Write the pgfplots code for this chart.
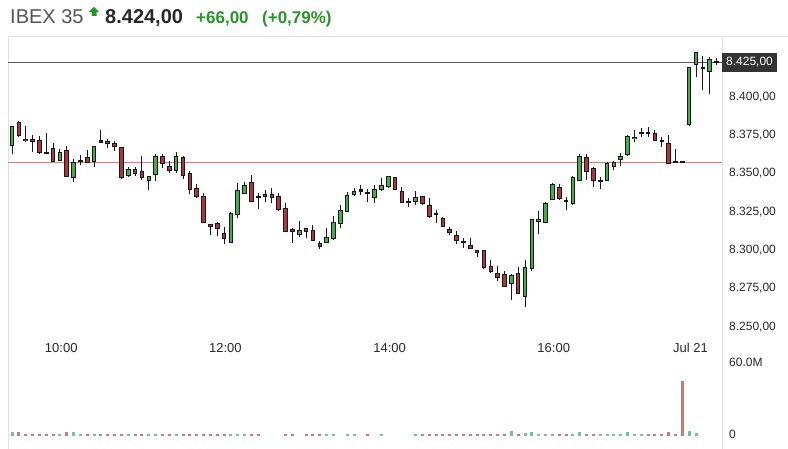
\documentclass[border=0pt]{standalone}
\usepackage{fontspec}
\setmainfont{Liberation Sans}
\usepackage{pgfplots}
\pgfplotsset{compat=1.18}
\usepackage{pgfplotstable}

\definecolor{upg}{RGB}{76,168,76}
\definecolor{dnr}{RGB}{168,56,62}
\definecolor{wickc}{RGB}{25,25,25}
\definecolor{volg}{RGB}{125,190,155}
\definecolor{volr}{RGB}{205,120,120}
\definecolor{prevred}{RGB}{232,120,120}
\definecolor{curline}{RGB}{85,85,85}
\definecolor{framec}{RGB}{224,224,224}
\definecolor{hdrgreen}{RGB}{38,150,38}
\definecolor{hdrgray}{RGB}{85,85,85}
\definecolor{darktext}{RGB}{40,40,40}
\definecolor{boxc}{RGB}{51,51,51}

\pgfplotstableread{
i O H L C
0 8367.1 8380.5 8362.2 8380.2
1 8383.1 8383.7 8373.3 8374.0
2 8372.0 8380.5 8370.0 8370.4
3 8372.0 8374.6 8363.7 8370.2
4 8371.3 8374.0 8362.5 8362.9
5 8363.3 8375.7 8362.0 8362.2
6 8365.9 8369.2 8357.0 8357.2
7 8357.8 8365.5 8357.6 8363.7
8 8364.8 8367.6 8347.2 8347.4
9 8346.3 8358.9 8343.9 8356.7
10 8357.0 8361.6 8355.0 8358.3
11 8360.2 8364.8 8356.0 8356.3
12 8357.2 8367.4 8353.9 8367.4
13 8371.0 8377.9 8369.6 8369.7
14 8370.7 8372.3 8366.1 8368.5
15 8369.7 8370.4 8364.2 8367.0
16 8366.6 8366.8 8345.6 8346.5
17 8348.0 8353.9 8347.4 8352.4
18 8352.2 8353.4 8348.0 8349.2
19 8351.1 8360.9 8345.2 8346.3
20 8344.8 8347.8 8338.7 8347.8
21 8348.2 8362.4 8344.3 8360.6
22 8360.9 8362.2 8353.1 8355.7
23 8354.4 8357.6 8349.6 8350.8
24 8351.4 8363.2 8349.6 8360.9
25 8360.1 8360.6 8345.7 8347.6
26 8350.1 8350.8 8336.1 8338.7
27 8339.8 8342.8 8333.5 8333.9
28 8334.8 8336.6 8317.2 8317.4
29 8316.5 8316.8 8309.3 8314.6
30 8317.4 8317.8 8308.7 8313.1
31 8310.8 8314.8 8303.3 8306.4
32 8304.3 8324.4 8304.1 8323.9
33 8322.4 8343.1 8320.4 8338.4
34 8335.9 8343.6 8335.8 8342.0
35 8343.6 8348.8 8330.6 8331.1
36 8333.8 8336.8 8326.3 8333.2
37 8335.9 8338.7 8331.1 8334.3
38 8335.9 8339.7 8330.2 8333.7
39 8334.8 8336.6 8325.3 8325.7
40 8326.8 8330.4 8311.3 8311.5
41 8313.3 8313.9 8304.1 8311.6
42 8309.1 8318.5 8308.0 8312.6
43 8313.7 8313.9 8307.7 8311.5
44 8312.6 8315.9 8305.1 8305.6
45 8304.3 8305.6 8299.9 8301.7
46 8303.9 8313.7 8303.8 8307.8
47 8306.5 8321.7 8306.1 8318.0
48 8316.5 8328.9 8313.7 8325.7
49 8324.5 8337.6 8324.4 8335.4
50 8335.4 8339.8 8334.8 8338.3
51 8337.7 8342.0 8335.4 8338.5
52 8336.4 8339.2 8331.1 8335.8
53 8333.3 8342.0 8330.4 8339.2
54 8338.7 8346.3 8338.1 8342.0
55 8340.5 8347.8 8340.0 8347.8
56 8346.9 8347.2 8338.4 8338.7
57 8338.3 8340.5 8330.2 8330.4
58 8330.9 8333.3 8327.4 8330.2
59 8331.1 8338.1 8328.9 8333.9
60 8334.8 8335.1 8329.2 8329.6
61 8328.9 8333.3 8320.2 8321.3
62 8322.7 8325.7 8317.0 8322.1
63 8320.6 8321.3 8314.6 8314.8
64 8313.3 8314.8 8309.3 8310.5
65 8309.3 8312.0 8303.5 8305.4
66 8304.6 8307.2 8300.7 8303.9
67 8302.8 8307.4 8299.9 8300.0
68 8299.5 8299.5 8295.0 8297.8
69 8299.5 8299.5 8287.1 8287.5
70 8289.1 8293.0 8284.7 8285.4
71 8284.3 8289.1 8279.3 8281.1
72 8283.9 8286.0 8275.4 8275.6
73 8277.2 8283.6 8266.6 8283.2
74 8284.3 8288.6 8270.5 8270.8
75 8268.7 8293.0 8262.5 8288.6
76 8287.1 8319.8 8285.8 8319.8
77 8317.6 8325.0 8310.0 8319.8
78 8317.4 8330.6 8317.2 8330.4
79 8332.2 8343.3 8331.9 8342.6
80 8340.9 8342.6 8332.2 8332.6
81 8331.3 8333.9 8325.7 8330.7
82 8329.6 8347.8 8329.2 8347.0
83 8344.8 8362.2 8344.6 8360.9
84 8360.1 8362.2 8345.2 8350.7
85 8352.9 8353.4 8340.5 8344.8
86 8343.9 8347.4 8339.4 8344.9
87 8344.8 8357.2 8344.6 8356.1
88 8353.5 8357.6 8351.8 8357.2
89 8358.3 8362.7 8354.6 8360.9
90 8361.6 8374.3 8361.2 8374.0
91 8372.0 8377.9 8370.2 8373.6
92 8375.4 8379.0 8373.5 8375.9
93 8375.9 8380.0 8373.5 8375.4
94 8376.1 8377.9 8370.7 8370.9
95 8370.7 8373.5 8367.0 8370.0
96 8369.2 8374.6 8355.4 8355.7
97 8356.8 8365.3 8356.3 8356.5
98 8356.7 8356.7 8356.5 8356.5
99 8381.1 8419.0 8380.8 8418.8
100 8420.3 8429.1 8412.7 8429.0
101 8418.3 8426.2 8404.0 8417.9
102 8415.9 8425.7 8401.4 8424.0
103 8421.9 8424.7 8420.0 8421.6
}\candles

\pgfplotstableread{
i V up
0 3.0 1
1 3.5 0
2 2 0
3 2 0
4 2 0
5 2 0
6 2 0
7 2 1
8 3.5 0
9 3.0 1
10 2 1
11 2 0
12 2 1
13 2 0
14 2 0
15 2 0
16 2 0
17 2 1
18 2 0
19 2 0
20 2 1
21 2 1
22 2 0
23 2 0
24 2 1
25 2 0
26 2 0
27 2 0
28 2 0
29 2 0
30 2 0
31 2 0
32 2 1
33 2 1
34 2 1
35 2 0
36 2 0
40 2 0
41 2 0
43 2 0
44 2 0
45 2 0
46 2 1
47 2 1
49 2 1
50 2 1
52 2 0
54 2 1
59 2 1
60 2 0
61 2 0
62 2 0
63 2 0
64 2 0
65 2 0
66 2 0
67 2 0
68 2 0
69 2 0
70 2 0
71 2 0
72 2 0
73 4.4 1
74 2 0
75 2.5 1
76 3.3 1
77 2 1
78 2 1
79 2 1
80 2 0
81 2 0
82 2 1
83 3.3 1
84 2 0
85 2 0
86 2 1
87 2 1
88 2 1
89 2 1
90 3.3 1
91 2 1
92 2 1
93 2 0
94 2 0
95 2 0
96 3.5 0
97 2 0
98 46 0
99 4.2 1
100 2.5 1
}\vols

\begin{document}
\begin{tikzpicture}
\begin{scope}[x=1pt,y=1pt]
\useasboundingbox (0,0) rectangle (788,449);
\fill[white] (0,0) rectangle (788,449);
% header
\node[anchor=base west, inner sep=0pt, text=hdrgray, font=\fontsize{20}{24}\selectfont] at (10,425.7) {IBEX 35};
\fill[hdrgreen] (89,437) -- (94,442) -- (99,437) -- (96.5,437) -- (96.5,433) -- (91.5,433) -- (91.5,437) -- cycle;
\node[anchor=base west, inner sep=0pt, text=darktext, font=\fontsize{20}{24}\selectfont\bfseries] at (105,425.7) {8.424,00};
\node[anchor=base west, inner sep=0pt, text=hdrgreen, font=\fontsize{17}{20}\selectfont\bfseries] at (196,425.7) {+66,00};
\node[anchor=base west, inner sep=0pt, text=hdrgreen, font=\fontsize{17}{20}\selectfont\bfseries] at (262,425.7) {(+0,79\%)};
% frame
\draw[framec, line width=1pt] (8,0) -- (8,412) -- (788,412);
\draw[framec, line width=1pt] (722,0) -- (722,412);
\end{scope}

% price panel
\begin{axis}[
  at={(8pt,119pt)}, anchor=south west,
  scale only axis, width=714pt, height=293pt,
  xmin=-0.585, xmax=103.8, ymin=8247.33, ymax=8438.57,
  axis line style={draw=none}, major tick length=0pt,
  xtick={7.2,31.2,55.2,79.2,99.2},
  xticklabels={10:00,12:00,14:00,16:00,Jul 21},
  xticklabel style={anchor=base, inner sep=0pt, yshift=-22.2pt, font=\fontsize{13}{15}\selectfont, text=darktext},
  ytick={8250,8275,8300,8325,8350,8375,8400},
  yticklabels={{8.250,00},{8.275,00},{8.300,00},{8.325,00},{8.350,00},{8.375,00},{8.400,00}},
  yticklabel pos=right,
  yticklabel style={anchor=base west, inner sep=0pt, xshift=7pt, yshift=-4.3pt, font=\fontsize{12}{14}\selectfont, text=darktext},
]
\addplot[prevred, line width=1.2pt] coordinates {(-0.585,8356.8) (103.8,8356.8)};
\addplot[curline, line width=1pt] coordinates {(-0.585,8421.6) (103.8,8421.6)};
% wicks
\addplot[wickc, line width=1pt, quiver={u=0, v=\thisrow{H}-\thisrow{L}}] table[x=i, y=L] {\candles};
% body outlines
\addplot[wickc, line width=4.6pt, quiver={u=0, v={max(abs(\thisrow{C}-\thisrow{O}),1.4)}}] table[x=i, y expr={min(\thisrow{O},\thisrow{C})}] {\candles};
% up bodies
\addplot[upg, line width=2.6pt, quiver={u=0, v={\thisrow{C}-\thisrow{O}-1.3}},
  restrict expr to domain={\thisrow{C}-\thisrow{O}}{1.31:1000}] table[x=i, y expr={\thisrow{O}+0.65}] {\candles};
% down bodies
\addplot[dnr, line width=2.6pt, quiver={u=0, v={\thisrow{O}-\thisrow{C}-1.3}},
  restrict expr to domain={\thisrow{O}-\thisrow{C}}{1.31:1000}] table[x=i, y expr={\thisrow{C}+0.65}] {\candles};
\end{axis}

% volume panel
\begin{axis}[
  at={(8pt,13pt)}, anchor=south west,
  scale only axis, width=714pt, height=81pt,
  xmin=-0.585, xmax=103.8, ymin=0, ymax=67.5,
  axis line style={draw=none}, major tick length=0pt,
  xtick=\empty,
  ytick={0,60}, yticklabels={0,60.0M},
  yticklabel pos=right,
  yticklabel style={anchor=base west, inner sep=0pt, xshift=7pt, yshift=-2.6pt, font=\fontsize{12}{14}\selectfont, text=darktext},
]
\addplot[ycomb, volg, line width=3pt, restrict expr to domain={\thisrow{up}}{0.5:1.5}] table[x=i, y=V] {\vols};
\addplot[ycomb, volr, line width=3pt, restrict expr to domain={\thisrow{up}}{-0.5:0.5}] table[x=i, y=V] {\vols};
\end{axis}

% current price box
\node[fill=boxc, text=white, minimum width=55.6pt, minimum height=19pt, inner sep=0pt, font=\fontsize{12}{14}\selectfont] at (749.5pt,386.8pt) {8.425,00};
\end{tikzpicture}
\end{document}
